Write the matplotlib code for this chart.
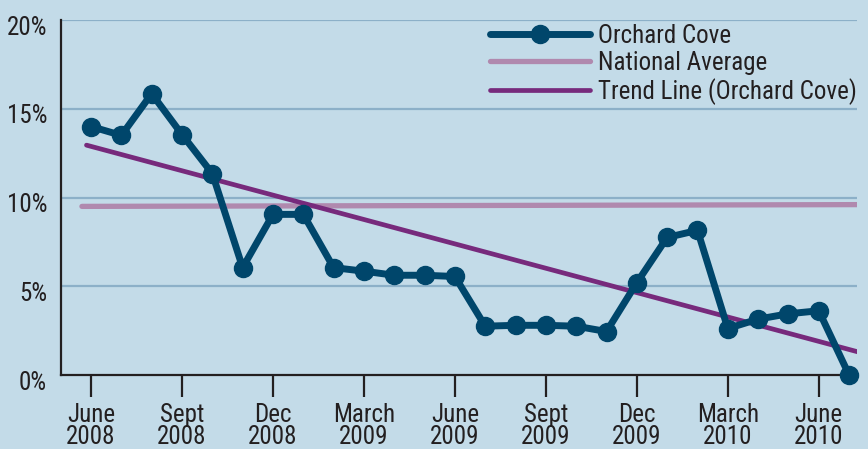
import numpy as np
import matplotlib
matplotlib.use('Agg')
import matplotlib.pyplot as plt
import matplotlib.transforms as mtransforms

plt.rcParams['font.family'] = ['Roboto Condensed', 'Liberation Sans Narrow', 'Liberation Sans', 'DejaVu Sans']

# Datos (tasa mensual, junio 2008 - julio 2010)
months = list(range(26))
orchard_cove = [14.0, 13.5, 15.85, 13.55, 11.35, 6.05, 9.05, 9.05, 6.05, 5.85,
                5.62, 5.62, 5.55, 2.75, 2.8, 2.8, 2.75, 2.45, 5.2, 7.75,
                8.15, 2.62, 3.15, 3.45, 3.62, 0.0]
national_avg = [9.5, 9.6]
national_x = [-0.3, 25.3]
trend_vals = [12.95, 1.3]
trend_x = [-0.15, 25.3]
tick_pos = [0, 3, 6, 9, 12, 15, 18, 21, 24]
tick_labels = ['June\n2008', 'Sept\n2008', 'Dec\n2008', 'March\n2009', 'June\n2009',
               'Sept\n2009', 'Dec\n2009', 'March\n2010', 'June\n2010']
y_ticks = [0, 5, 10, 15, 20]
y_labels = ['0%', '5%', '10%', '15%', '20%']

bg = '#c3dbe8'
navy = '#00466b'
pink = '#b089ae'
purple = '#772a7c'
grid_col = '#8cb0c8'
text_col = '#231f20'

fig = plt.figure(figsize=(8.68, 4.49), dpi=100)
fig.patch.set_facecolor(bg)
ax = fig.add_axes([0.0703, 0.1648, 0.917, 0.7906])
ax.set_facecolor(bg)

for v in y_ticks[1:]:
    ax.axhline(v, color=grid_col, linewidth=1.6, zorder=1)

ax.plot(national_x, national_avg, color=pink, linewidth=3.8, solid_capstyle='round',
        zorder=2, label='National Average')
ax.plot(trend_x, trend_vals, color=purple, linewidth=3.4, solid_capstyle='round',
        zorder=3, label='Trend Line (Orchard Cove)')
ax.plot(months, orchard_cove, color=navy, linewidth=5, marker='o', markersize=13,
        solid_capstyle='round', solid_joinstyle='round', zorder=5, clip_on=False,
        label='Orchard Cove')

ax.set_xlim(-0.99, 25.26)
ax.set_ylim(0, 20)

for s in ['top', 'right']:
    ax.spines[s].set_visible(False)
for s in ['left', 'bottom']:
    ax.spines[s].set_color(text_col)
    ax.spines[s].set_linewidth(1.6)
    ax.spines[s].set_zorder(4)

ax.set_xticks(tick_pos)
ax.set_xticklabels(tick_labels, fontsize=18, color=text_col, linespacing=0.9)
ax.tick_params(axis='x', direction='out', length=16, width=1.6, color=text_col, pad=4)
ax.set_yticks(y_ticks)
ax.set_yticklabels(y_labels, fontsize=18, color=text_col)
ax.tick_params(axis='y', length=0, pad=10)
offset = mtransforms.ScaledTranslation(0, -5 / 100, fig.dpi_scale_trans)
for lab in ax.get_yticklabels():
    lab.set_transform(lab.get_transform() + offset)

handles, labels = ax.get_legend_handles_labels()
order = [2, 0, 1]
leg = ax.legend([handles[i] for i in order], [labels[i] for i in order],
                loc='upper left', bbox_to_anchor=(490 / 868, 1 - 24 / 449),
                bbox_transform=fig.transFigure, frameon=False, fontsize=18,
                handlelength=4.0, handletextpad=0.32, labelspacing=0.12,
                borderpad=0, borderaxespad=0, numpoints=1)
for t in leg.get_texts():
    t.set_color(text_col)

fig.savefig('out.png', dpi=100, facecolor=bg)
